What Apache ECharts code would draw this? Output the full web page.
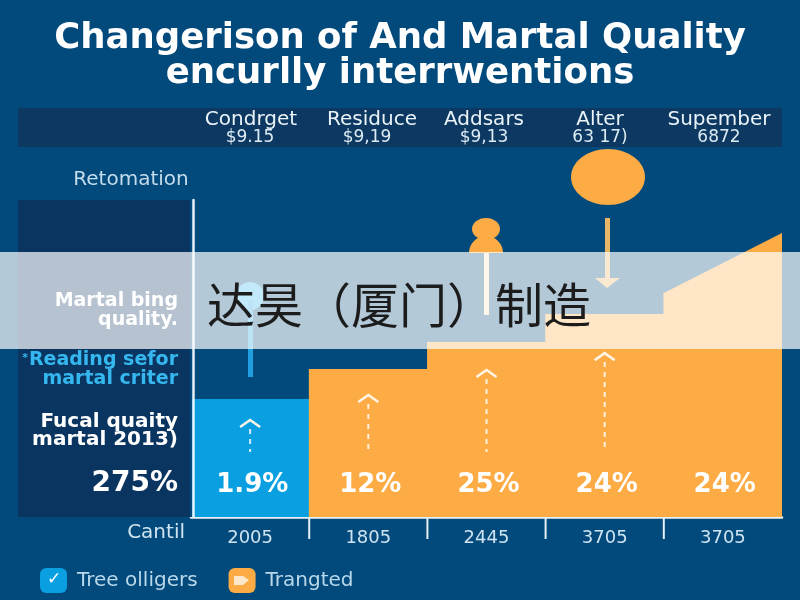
<!DOCTYPE html>
<html><head><meta charset="utf-8">
<style>html,body{margin:0;padding:0;background:#024a7c}#c{width:800px;height:600px}</style>
<script src="https://cdn.jsdelivr.net/npm/echarts@6/dist/echarts.min.js"></script>
</head><body><div id="c"></div>
<script>
const tickLabels = ['2005','1805','2445','3705','3705'];
const blueValues = [37.2,null,null,null,null];
const orangeValues = [null,46.7,55.2,64,70.7];
const rampEnd = 89.6;
const barLabels = ['1.9%','12%','25%','24%','24%'];
const arrowTops = [30.6,38.5,46.4,51.7];
const arrowBase = 20.5;
const headerNames = ['Condrget','Residuce','Addsars','Alter','Supember'];
const headerValues = ['$9.15','$9,19','$9,13','63 17)','6872'];

const WHITE='#e6f0f6', BLUE='#0a9fe0', ORANGE='#fdab45', CREAM='#fde3bd', BG='#024a7c';
const deja='"DejaVu Sans",sans-serif';
const chart=echarts.init(document.getElementById('c'));

function leftText(x,y,text,size,color,weight,lh,align){
  return {type:'text',z:5,x,y,style:{text,fontSize:size,fill:color,fontWeight:weight||'normal',
    fontFamily:deja,align:align||'right',verticalAlign:'middle',lineHeight:lh||size}};
}
const headerX=[251,372,484,600,719];
const valueX=[250,367,484,600,719];
const graphics=[
 {type:'rect',z:0,shape:{x:18,y:108,width:764,height:39},style:{fill:'#0c3862'}},
 {type:'rect',z:0,shape:{x:18,y:200,width:172,height:317},style:{fill:'#0a3560'}},
 {type:'rect',z:4,shape:{x:190,y:398,width:2,height:119},style:{fill:BG}},
 {type:'ellipse',z:3,shape:{cx:608,cy:177,rx:37,ry:28},style:{fill:ORANGE}},
 {type:'rect',z:3,shape:{x:605,y:218,width:5,height:62},style:{fill:'#e9b566'}},
 {type:'polygon',z:3,shape:{points:[[595,278],[620,278],[607,288]]},style:{fill:'#e9b566'}},
 {type:'ellipse',z:3,shape:{cx:486,cy:229,rx:14,ry:11},style:{fill:ORANGE}},
 {type:'sector',z:3,shape:{cx:486,cy:253,r:17,startAngle:Math.PI,endAngle:2*Math.PI},style:{fill:ORANGE}},
 {type:'rect',z:3,shape:{x:484,y:253,width:5,height:62},style:{fill:CREAM}},
 {type:'circle',z:3,shape:{cx:250,cy:296,r:14},style:{fill:'#35b4ec'}},
 {type:'rect',z:3,shape:{x:248,y:300,width:5,height:77},style:{fill:'#1f9fe0'}},
 leftText(131,180,'Retomation',20,'#c4dcec','normal',18,'center'),
 leftText(178,311,'Martal bing\nquality.',19,'#ffffff','bold',19),
 leftText(178,370,'Reading sefor\nmartal criter',19,'#35b8ef','bold',19),
 leftText(178,431,'Fucal quaity\nmartal 2013)',20,'#ffffff','bold',18),
 leftText(178,484,'275%',28,'#ffffff','bold',28),
 leftText(185,533,'Cantil',20,'#cfe4f2','normal',18),
 leftText(28,358,'*',11,'#35b8ef','bold',12,'right'),
 {type:'text',z:6,x:54,y:580,style:{text:'\u2713',fontSize:17,fontWeight:'bold',fill:'#fff',align:'center',verticalAlign:'middle',fontFamily:deja}},
 {type:'polygon',z:6,shape:{points:[[234,576],[243,576],[249,580],[243,585],[234,585]]},style:{fill:'#fde8cc'}},
 {type:'rect',z:100,shape:{x:0,y:252,width:800,height:97},style:{fill:'rgba(255,255,255,0.7)'}},
 {type:'text',z:101,x:207,y:305,style:{text:'达昊（厦门）制造',fontSize:48,fill:'#1c1c1c',fontFamily:'"Noto Sans CJK SC"',verticalAlign:'middle',align:'left'}}
];
headerNames.forEach((n,i)=>{
  graphics.push({type:'text',z:5,x:headerX[i],y:120,style:{text:n,fontSize:20,fill:'#eaf3f8',fontFamily:deja,align:'center',verticalAlign:'middle'}});
  graphics.push({type:'text',z:5,x:valueX[i],y:138,style:{text:headerValues[i],fontSize:17,fill:'#dcebf4',fontFamily:deja,align:'center',verticalAlign:'middle'}});
});

const barLabel={show:true,position:'insideBottom',distance:19,offset:[2,0],color:'#fff',fontSize:26,fontWeight:'bold',fontFamily:deja,
  formatter:p=>barLabels[p.dataIndex]};

chart.setOption({
  animation:false,
  backgroundColor:BG,
  title:{text:'Changerison of And Martal Quality\nencurlly interrwentions',left:'center',top:16,
    textStyle:{color:'#fff',fontSize:35.5,fontWeight:'bold',fontFamily:deja,lineHeight:35}},
  grid:{left:191,right:18,top:200,bottom:83},
  legend:{left:40,top:568,padding:0,itemWidth:27,itemHeight:25,itemGap:31,icon:'roundRect',
    data:['Tree olligers','Trangted'],
    textStyle:{color:'#b9d8ea',fontSize:20,fontFamily:deja,padding:[0,0,0,5]}},
  xAxis:{type:'category',data:tickLabels,
    axisLine:{lineStyle:{color:WHITE,width:2.5}},axisTick:{show:false},
    axisLabel:{color:'#cfe4f2',fontSize:18,margin:12,fontFamily:deja}},
  yAxis:{type:'value',min:0,max:100,offset:-2,z:10,splitLine:{show:false},axisTick:{show:false},axisLabel:{show:false},
    axisLine:{show:true,lineStyle:{color:WHITE,width:2.5}}},
  graphic:{elements:graphics},
  series:[
    {name:'Tree olligers',type:'bar',stack:'a',barWidth:'100.6%',data:blueValues,z:2,
     itemStyle:{color:BLUE},label:barLabel},
    {name:'Trangted',type:'bar',stack:'a',barWidth:'100.6%',data:orangeValues,z:2,
     itemStyle:{color:ORANGE},label:barLabel},
    {type:'custom',z:2,silent:true,data:[[4,orangeValues[4],rampEnd]],
     renderItem(p,api){
       const c=api.coord([api.value(0),api.value(1)]);
       const w=api.size([1,0])[0];
       const e=api.coord([api.value(0),api.value(2)]);
       return {type:'polygon',shape:{points:[[c[0]-w/2,c[1]+1],[c[0]-w/2,c[1]],[c[0]+w/2,e[1]],[c[0]+w/2,c[1]+1]]},style:{fill:ORANGE}};
     }},
    {type:'custom',z:3,silent:true,data:arrowTops.map((t,i)=>[i,t]),
     renderItem(p,api){
       const t=api.coord([api.value(0),api.value(1)]);
       const b=api.coord([api.value(0),arrowBase]);
       const col=api.value(0)===0?'#cfeefc':'#fff1da';
       return {type:'group',children:[
         {type:'line',shape:{x1:t[0],y1:t[1]+9,x2:b[0],y2:b[1]},style:{stroke:col,lineWidth:2,lineDash:[5,5]}},
         {type:'polyline',shape:{points:[[t[0]-10,t[1]+7],[t[0],t[1]],[t[0]+10,t[1]+7]]},style:{stroke:'#fff5e6',lineWidth:2.5,fill:null}}
       ]};
     }},
    {type:'custom',z:3,silent:true,data:[[0],[1],[2],[3]],
     renderItem(p,api){
       const c=api.coord([api.value(0),0]);
       const w=api.size([1,0])[0];
       return {type:'line',shape:{x1:c[0]+w/2,y1:c[1],x2:c[0]+w/2,y2:c[1]+22},style:{stroke:WHITE,lineWidth:2}};
     }}
  ]
});
</script></body></html>
